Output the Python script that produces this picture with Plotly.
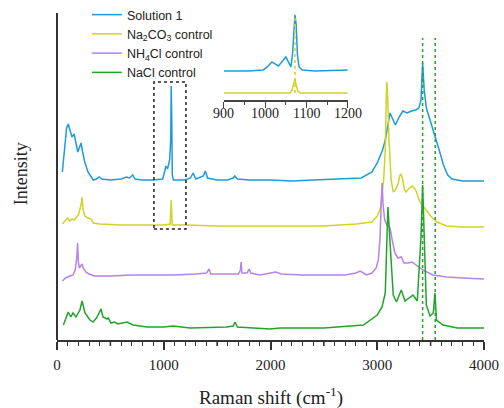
import plotly.graph_objects as go

# ---------------- data (Raman shift in cm^-1, intensity in a.u., offset stacked) -------------
sol_x = [50, 70, 90, 105, 120, 140, 160, 180, 195, 215, 225, 240, 260, 290, 320, 340, 370, 395, 420, 500,
         600, 650, 680, 710, 730, 800, 900, 990, 1010, 1020, 1035, 1045, 1055, 1065, 1070, 1075, 1080, 1090,
         1200, 1250, 1275, 1300, 1370, 1390, 1410, 1500, 1600, 1650, 1665, 1690, 1800, 2000, 2200, 2400, 2600,
         2750, 2850, 2950, 3000, 3050, 3075, 3100, 3120, 3140, 3170, 3200, 3240, 3280, 3320, 3360, 3390, 3410,
         3425, 3440, 3460, 3500, 3540, 3580, 3620, 3660, 3700, 3800, 4000]
sol_y = [168, 190, 212, 216, 210, 203, 206, 197, 188, 194, 197, 188, 178, 168, 163, 160, 161, 163, 161, 160,
         161, 163, 162, 165, 161, 160, 160, 161, 169, 174, 171, 176, 180, 200, 254, 220, 165, 160,
         160, 162, 167, 161, 164, 169, 162, 160, 160, 162, 164, 161, 160, 160, 159, 160, 161,
         162, 162, 168, 177, 190, 200, 215, 227, 222, 215, 222, 229, 227, 229, 230, 232, 240,
         277, 250, 232, 218, 205, 190, 175, 165, 161, 159, 159]

na2co3_x = [50, 80, 100, 120, 140, 160, 180, 200, 225, 235, 245, 260, 290, 320, 340, 400, 600, 800, 1000,
            1060, 1066, 1070, 1074, 1080, 1200, 1500, 2000, 2500, 2800, 2950, 3000, 3030, 3060, 3075, 3085,
            3090, 3097, 3110, 3130, 3150, 3170, 3195, 3210, 3222, 3235, 3255, 3270, 3300, 3330, 3360, 3400,
            3440, 3500, 3560, 3650, 3800, 4000]
na2co3_y = [116, 120, 122, 119, 121, 120, 122, 125, 135, 143, 130, 124, 122, 121, 117, 116, 115, 115, 115,
            116, 128, 140, 128, 115, 115, 114, 114, 114, 116, 118, 124, 132, 160, 190, 245,
            258, 245, 200, 160, 148, 150, 156, 164, 166, 162, 150, 148, 152, 154, 150, 138,
            132, 124, 118, 114, 113, 113]

nh4cl_x = [50, 80, 120, 150, 170, 185, 193, 200, 210, 225, 235, 245, 270, 300, 350, 500, 700, 900, 1100,
           1300, 1400, 1425, 1440, 1600, 1700, 1718, 1725, 1732, 1780, 1800, 1815, 1900, 2000, 2050, 2100,
           2300, 2500, 2700, 2800, 2840, 2870, 2900, 2950, 2990, 3010, 3025, 3035, 3045, 3055, 3070, 3090,
           3120, 3140, 3165, 3195, 3225, 3250, 3290, 3325, 3380, 3430, 3520, 3650, 3800, 4000]
nh4cl_y = [59, 62, 64, 65, 70, 82, 97, 78, 72, 74, 76, 72, 68, 66, 64, 64, 65, 65, 65,
           66, 67, 71, 66, 66, 66, 70, 78, 67, 67, 71, 67, 65, 67, 68, 66,
           65, 65, 65, 67, 69, 67, 65, 67, 72, 80, 100, 130, 157, 135, 120, 115,
           112, 100, 87, 82, 83, 77, 77, 78, 74, 70, 65, 63, 62, 61]

nacl_x = [60, 105, 130, 150, 178, 197, 215, 235, 262, 309, 337, 370, 412, 431, 468, 480, 506, 540, 571, 656,
          712, 843, 1000, 1087, 1246, 1590, 1650, 1668, 1690, 1995, 2090, 2500, 2870, 3000, 3045, 3075, 3090,
          3100, 3120, 3150, 3180, 3225, 3260, 3335, 3375, 3395, 3410, 3425, 3440, 3460, 3495, 3525, 3540,
          3555, 3615, 3750, 4000]
nacl_y = [15, 28, 23, 27, 23, 27, 30, 39, 27, 20, 18, 22, 31, 23, 21, 22, 17, 18, 16, 18,
          15, 13, 13, 14, 12, 13, 14, 18, 13, 11, 12, 12, 15, 25, 33, 47, 110,
          133, 97, 45, 38, 50, 39, 45, 39, 77, 103, 155, 95, 35, 24, 27, 47,
          20, 15, 12, 12]

# inset (900-1200 cm^-1)
ins_sol_x = [900, 960, 995, 1005, 1016, 1025, 1032, 1042, 1050, 1056, 1062, 1066, 1069, 1072, 1075, 1078,
             1082, 1090, 1120, 1200]
ins_sol_y = [29, 29, 30, 33, 38, 36, 34, 39, 43, 38, 33, 45, 70, 85, 75, 45, 33, 30, 29, 30]
ins_na_x = [900, 1000, 1060, 1065, 1069, 1072, 1075, 1079, 1085, 1200]
ins_na_y = [7, 7, 7, 10, 16, 21, 15, 9, 7, 7]
inset_ticks = [900, 1000, 1100, 1200]

names = ["Solution 1", "Na<sub>2</sub>CO<sub>3</sub> control", "NH<sub>4</sub>Cl control", "NaCl control"]
colors = ["#1f9bd7", "#d2d228", "#b683ea", "#22a32a"]

marker_lines = [3425, 3543]      # green dotted guide lines
box_x = [908, 1208]              # dotted zoom box
box_y = [111, 258]
inset_peak = 1072
mid_ticks = [500, 1500, 2500, 3500]

# ---------------- figure ----------------
H_PLOT = 340
fig = go.Figure()
series = [(sol_x, sol_y), (na2co3_x, na2co3_y), (nh4cl_x, nh4cl_y), (nacl_x, nacl_y)]
for (xs, ys), nm, c in zip(series, names, colors):
    fig.add_trace(go.Scatter(x=xs, y=ys, mode="lines", name=nm,
                             line=dict(color=c, width=1.5), xaxis="x", yaxis="y"))

fig.add_trace(go.Scatter(x=ins_sol_x, y=ins_sol_y, mode="lines", showlegend=False,
                         line=dict(color=colors[0], width=1.5), xaxis="x2", yaxis="y2"))
fig.add_trace(go.Scatter(x=ins_na_x, y=ins_na_y, mode="lines", showlegend=False,
                         line=dict(color=colors[1], width=1.5), xaxis="x2", yaxis="y2"))

for xv in marker_lines:
    fig.add_shape(type="line", xref="x", yref="y", x0=xv, x1=xv, y0=0, y1=302,
                  line=dict(color=colors[3], width=1.5, dash="dot"))
fig.add_shape(type="rect", xref="x", yref="y", x0=box_x[0], x1=box_x[1], y0=box_y[0], y1=box_y[1],
              line=dict(color="#222", width=1.5, dash="dot"))
fig.add_shape(type="line", xref="x2", yref="y2", x0=inset_peak, x1=inset_peak, y0=7, y1=85,
              line=dict(color=colors[1], width=1.5, dash="dot"))
# left spine (stops short of the top)
fig.add_shape(type="line", xref="paper", yref="y", x0=0, x1=0, y0=0, y1=327,
              line=dict(color="#333", width=2))
# medium ticks at the 500s
for xv in mid_ticks:
    fig.add_shape(type="line", xref="x", yref="paper", x0=xv, x1=xv, y0=0, y1=-6 / H_PLOT,
                  line=dict(color="#333", width=1.5))

serif = "Liberation Serif, Times New Roman, serif"
sans = "Liberation Sans, Arial, sans-serif"

annotations = [
    dict(text="Raman shift (cm<sup>-1</sup>)", xref="paper", yref="paper", x=0.5, y=-0.166,
         xanchor="center", yanchor="middle", showarrow=False,
         font=dict(family=serif, size=19, color="#222")),
    dict(text="Intensity", xref="paper", yref="paper", x=-0.084, y=0.488, textangle=-90,
         xanchor="center", yanchor="middle", showarrow=False,
         font=dict(family=serif, size=18, color="#222")),
]
for t in inset_ticks:
    annotations.append(dict(text=str(t), xref="x2", yref="paper", x=t, y=0.666,
                            xanchor="center", yanchor="middle", showarrow=False,
                            font=dict(family=serif, size=14, color="#222")))

fig.update_layout(
    width=504, height=408,
    margin=dict(l=57, r=20, t=0, b=68),
    paper_bgcolor="white", plot_bgcolor="white",
    showlegend=True,
    legend=dict(x=0.07, y=1.0, xanchor="left", yanchor="top", bgcolor="rgba(0,0,0,0)",
                font=dict(family=sans, size=12.5, color="#222"), tracegroupgap=0),
    xaxis=dict(range=[0, 4000], showgrid=False, zeroline=False, showline=True, linecolor="#333",
               linewidth=2, ticks="outside", ticklen=8, tickwidth=1.5, tickcolor="#333",
               dtick=1000, tick0=0, tickfont=dict(family=serif, size=15, color="#222"),
               ticklabelstandoff=2, automargin=False,
               minor=dict(dtick=100, ticklen=4, tickwidth=1.2, tickcolor="#333", ticks="outside", showgrid=False),
               anchor="y"),
    yaxis=dict(range=[0, H_PLOT], showgrid=False, zeroline=False, showline=False,
               showticklabels=False, ticks="", domain=[0, 1], anchor="x", automargin=False),
    xaxis2=dict(domain=[0.391, 0.681], range=[900, 1200], anchor="y2", showgrid=False, zeroline=False,
                showline=True, linecolor="#444", linewidth=1.5, ticks="outside", ticklen=6,
                tickwidth=1.2, tickcolor="#444", dtick=100, tick0=900, automargin=False,
                showticklabels=False,
                minor=dict(dtick=50, ticklen=3, tickwidth=1, tickcolor="#444", ticks="outside", showgrid=False)),
    yaxis2=dict(domain=[0.706, 0.962], range=[0, 87], anchor="x2", visible=False),
    annotations=annotations,
)

fig.write_html("out.html", config={"displayModeBar": False},
               post_script="document.body.style.margin='0';document.body.style.overflow='hidden';")
